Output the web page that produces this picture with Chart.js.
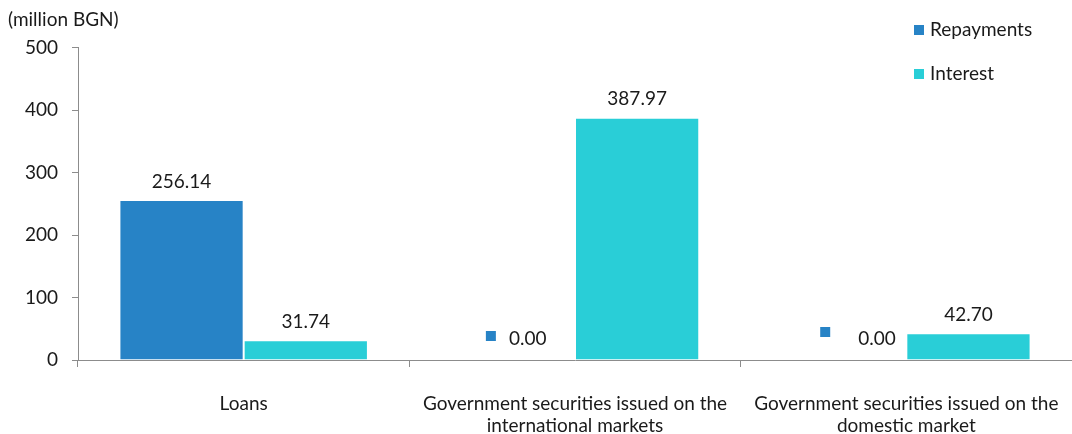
<!DOCTYPE html>
<html lang="en">
<head>
    <meta charset="UTF-8">
    <title>Debt service by instrument</title>
    <script src="https://cdn.jsdelivr.net/npm/chart.js@4.4.0/dist/chart.umd.min.js"></script>
    <style>
        body { margin: 0; background: #fff; }
        #wrap { width: 1072px; height: 434px; position: relative; }
    </style>
</head>
<body>
    <div id="wrap"><canvas id="chart"></canvas></div>
    <script>
        const categories = [
            'Loans',
            ['Government securities issued on the', 'international markets'],
            ['Government securities issued on the', 'domestic market']
        ];
        const repayments = [256.14, 0.00, 0.00];
        const interest = [31.74, 387.97, 42.70];
        const yTicks = [0, 100, 200, 300, 400, 500];

        const FONT = 'Lato, "Open Sans", sans-serif';
        const FS = 19;
        const TEXT = '#1a1a1a';
        const AXIS = '#8c8c8c';

        // value labels above bars; zero values get a small legend key like Excel does
        const valueLabels = {
            id: 'valueLabels',
            afterDatasetsDraw(chart, args, opts) {
                const ctx = chart.ctx;
                ctx.save();
                ctx.font = FS + 'px ' + FONT;
                ctx.fillStyle = TEXT;
                ctx.textBaseline = 'bottom';
                chart.data.datasets.forEach((ds, di) => {
                    const meta = chart.getDatasetMeta(di);
                    meta.data.forEach((bar, i) => {
                        const v = ds.data[i];
                        const txt = v.toFixed(2);
                        if (v === 0) {
                            const shift = opts.zeroShift[i] || { key: -22, text: -4, y: 0 };
                            ctx.fillStyle = ds.backgroundColor;
                            ctx.fillRect(bar.x + shift.key - 5, bar.y - 29 + shift.y, 10, 10);
                            ctx.fillStyle = TEXT;
                            ctx.textAlign = 'left';
                            ctx.fillText(txt, bar.x + shift.text, bar.y - 12);
                        } else {
                            ctx.textAlign = 'center';
                            ctx.fillText(txt, bar.x, bar.y - 9);
                        }
                    });
                });
                ctx.restore();
            }
        };

        // legend in the top right corner, drawn by hand
        const cornerLegend = {
            id: 'cornerLegend',
            afterDraw(chart) {
                const ctx = chart.ctx;
                ctx.save();
                ctx.font = FS + 'px ' + FONT;
                ctx.textAlign = 'left';
                ctx.textBaseline = 'middle';
                chart.data.datasets.forEach((ds, i) => {
                    const y = 30 + i * 44;
                    ctx.fillStyle = ds.backgroundColor;
                    ctx.fillRect(914, y - 5, 10, 10);
                    ctx.fillStyle = TEXT;
                    ctx.fillText(ds.label, 930, y);
                });
                ctx.restore();
            }
        };

        new Chart(document.getElementById('chart'), {
            type: 'bar',
            data: {
                labels: categories,
                datasets: [
                    {
                        label: 'Repayments',
                        data: repayments,
                        backgroundColor: '#2783C6',
                        borderColor: 'rgba(255,255,255,0.5)',
                        borderWidth: 1,
                        categoryPercentage: 0.75,
                        barPercentage: 1.0
                    },
                    {
                        label: 'Interest',
                        data: interest,
                        backgroundColor: '#29CED7',
                        borderColor: 'rgba(255,255,255,0.5)',
                        borderWidth: 1,
                        categoryPercentage: 0.75,
                        barPercentage: 1.0
                    }
                ]
            },
            options: {
                responsive: true,
                maintainAspectRatio: false,
                animation: false,
                layout: { padding: { left: 8, right: 0, top: 0, bottom: 0 } },
                plugins: {
                    legend: { display: false },
                    tooltip: { enabled: false },
                    title: {
                        display: true,
                        text: '(million BGN)',
                        align: 'start',
                        color: TEXT,
                        font: { family: FONT, size: FS, weight: 'normal' },
                        padding: { top: 8, bottom: 17 }
                    },
                    valueLabels: {
                        zeroShift: {
                            1: { key: -22, text: -4, y: 0 },
                            2: { key: -19, text: 14, y: -4 }
                        }
                    }
                },
                scales: {
                    x: {
                        offset: true,
                        afterFit(axis) {
                            axis.height = 74;
                            axis.paddingLeft = 0;
                            axis.paddingRight = 0;
                        },
                        grid: {
                            display: true,
                            offset: true,
                            drawOnChartArea: false,
                            drawTicks: true,
                            tickLength: 7,
                            color: AXIS
                        },
                        border: { color: AXIS, width: 1 },
                        ticks: {
                            color: TEXT,
                            font: { family: FONT, size: FS },
                            padding: 25,
                            maxRotation: 0,
                            autoSkip: false
                        }
                    },
                    y: {
                        min: 0,
                        max: 500,
                        afterFit(axis) { axis.width = 70; },
                        afterBuildTicks(axis) {
                            axis.ticks = yTicks.map(v => ({ value: v }));
                        },
                        grid: {
                            display: true,
                            drawOnChartArea: false,
                            drawTicks: true,
                            tickLength: 6,
                            color: AXIS
                        },
                        border: { color: AXIS, width: 1 },
                        ticks: {
                            color: TEXT,
                            font: { family: FONT, size: FS },
                            padding: 14
                        }
                    }
                }
            },
            plugins: [valueLabels, cornerLegend]
        });
    </script>
</body>
</html>
